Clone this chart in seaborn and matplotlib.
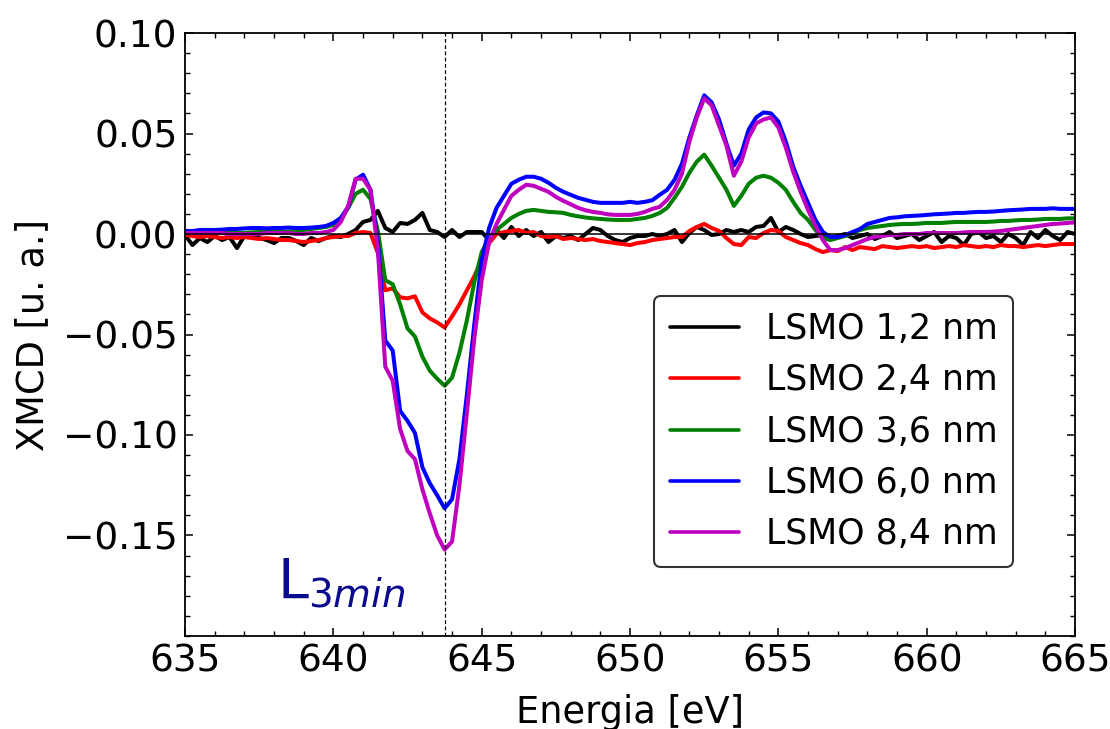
import numpy as np
import pandas as pd
import matplotlib
matplotlib.use("Agg")
import matplotlib.pyplot as plt
from matplotlib.ticker import AutoMinorLocator, FuncFormatter
import seaborn as sns

# ---------------- data ----------------
energy = np.round(np.arange(635.0, 665.001, 0.25), 2)

labels = ["LSMO 1,2 nm", "LSMO 2,4 nm", "LSMO 3,6 nm", "LSMO 6,0 nm", "LSMO 8,4 nm"]
colors = ["#000000", "#ff0000", "#008000", "#0000ff", "#bf00bf"]

xmcd_12 = [
    -0.0005, -0.0055, -0.002, -0.004,
    -0.001, -0.003, -0.0015, -0.007,
    -0.001, -0.0015, -0.002, -0.003,
    -0.0045, -0.002, -0.002, -0.0035,
    -0.0055, -0.002, -0.0035, -0.002,
    -0.001, -0.0015, 0.0, 0.002,
    0.006, 0.007, 0.0115, 0.003,
    0.001, 0.0055, 0.005, 0.007,
    0.0105, 0.002, 0.001, -0.0015,
    0.002, -0.0015, 0.001, 0.001,
    0.001, -0.003, 0.002, -0.002,
    0.0035, -0.001, 0.002, -0.001,
    0.001, -0.004, -0.001, -0.002,
    -0.001, -0.003, 0.0, 0.003,
    0.002, -0.001, -0.003, -0.004,
    -0.002, -0.001, -0.001, 0.0,
    -0.001, 0.0, 0.002, -0.004,
    0.0005, 0.0035, 0.002, -0.0005,
    0.0, 0.002, 0.001, 0.002,
    0.001, 0.0035, 0.004, 0.008,
    0.001, 0.0035, 0.002, 0.0,
    -0.0015, -0.001, -0.0005, -0.002,
    -0.001, 0.0, -0.002, -0.001,
    0.0, -0.0025, -0.001, 0.001,
    -0.002, -0.001, 0.0, -0.003,
    -0.001, 0.001, -0.004, -0.001,
    -0.002, -0.0055, 0.0, 0.001,
    -0.002, -0.001, -0.004, 0.0,
    -0.002, -0.0055, 0.001, -0.002,
    0.002, -0.001, -0.003, 0.001,
    0.0,
]

xmcd_24 = [
    -0.0005, -0.001, -0.0015, -0.001,
    -0.0015, -0.002, -0.0015, -0.002,
    -0.0015, -0.002, -0.0025, -0.002,
    -0.0025, -0.003, -0.003, -0.0035,
    -0.004, -0.0035, -0.003, -0.002,
    -0.0015, -0.001, -0.001, 0.0005,
    0.001, 0.0005, -0.0095, -0.028,
    -0.027, -0.0315, -0.032, -0.031,
    -0.039, -0.042, -0.044, -0.0465,
    -0.041, -0.035, -0.028, -0.021,
    -0.013, -0.0045, 0.0, 0.001,
    0.0015, 0.002, 0.0005, 0.001,
    -0.001, -0.0015, -0.001, -0.0025,
    -0.002, -0.0025, -0.003, -0.0025,
    -0.0035, -0.004, -0.0045, -0.005,
    -0.0055, -0.0045, -0.004, -0.003,
    -0.0025, -0.002, -0.0015, -0.0015,
    0.0015, 0.0035, 0.005, 0.003,
    0.0015, -0.002, -0.005, -0.0055,
    -0.0015, -0.002, 0.0005, 0.002,
    0.0015, -0.0015, -0.003, -0.0045,
    -0.0055, -0.0075, -0.009, -0.008,
    -0.0085, -0.0065, -0.008, -0.0065,
    -0.007, -0.0075, -0.006, -0.0065,
    -0.007, -0.0065, -0.006, -0.0065,
    -0.006, -0.007, -0.0065, -0.006,
    -0.0065, -0.0055, -0.006, -0.0065,
    -0.006, -0.0065, -0.0055, -0.006,
    -0.006, -0.0065, -0.006, -0.0055,
    -0.006, -0.0055, -0.005, -0.005,
    -0.005,
]

xmcd_36 = [
    0.001, 0.001, 0.0008, 0.0005,
    0.0005, 0.0005, 0.0005, 0.0005,
    0.0005, 0.0008, 0.001, 0.001,
    0.001, 0.001, 0.0012, 0.0015,
    0.002, 0.0025, 0.003, 0.0035,
    0.0045, 0.0075, 0.013, 0.020,
    0.022, 0.0175, 0.0015, -0.023,
    -0.025, -0.035, -0.047, -0.051,
    -0.061, -0.068, -0.072, -0.0755,
    -0.0715, -0.059, -0.043, -0.024,
    -0.009, -0.002, 0.002, 0.005,
    0.008, 0.010, 0.0115, 0.012,
    0.0115, 0.011, 0.0108, 0.0105,
    0.0095, 0.0088, 0.0082, 0.0078,
    0.0075, 0.0072, 0.007, 0.007,
    0.007, 0.0075, 0.008, 0.009,
    0.0105, 0.013, 0.018, 0.0235,
    0.0305, 0.036, 0.0395, 0.034,
    0.028, 0.022, 0.014, 0.019,
    0.025, 0.028, 0.029, 0.028,
    0.0255, 0.022, 0.016, 0.0105,
    0.007, 0.002, -0.002, -0.003,
    -0.002, -0.001, 0.0005, 0.002,
    0.003, 0.0035, 0.004, 0.0045,
    0.0048, 0.005, 0.005, 0.0052,
    0.0055, 0.0055, 0.0055, 0.0058,
    0.006, 0.006, 0.006, 0.006,
    0.006, 0.0062, 0.0065, 0.0065,
    0.0068, 0.007, 0.007, 0.0072,
    0.0075, 0.0075, 0.0075, 0.0078,
    0.0078,
]

xmcd_60 = [
    0.0015, 0.0015, 0.002, 0.002,
    0.002, 0.0022, 0.0025, 0.0025,
    0.0028, 0.003, 0.003, 0.0028,
    0.003, 0.003, 0.0032, 0.003,
    0.003, 0.0032, 0.0035, 0.004,
    0.0055, 0.008, 0.0135, 0.027,
    0.0295, 0.022, -0.004, -0.053,
    -0.058, -0.088, -0.093, -0.099,
    -0.116, -0.124, -0.130, -0.1365,
    -0.132, -0.112, -0.080, -0.045,
    -0.013, 0.003, 0.013, 0.019,
    0.025, 0.027, 0.0285, 0.0285,
    0.0275, 0.0255, 0.023, 0.021,
    0.0195, 0.018, 0.017, 0.016,
    0.0155, 0.0155, 0.0155, 0.0155,
    0.016, 0.0155, 0.016, 0.0168,
    0.0195, 0.022, 0.027, 0.035,
    0.048, 0.059, 0.069, 0.0655,
    0.057, 0.045, 0.034, 0.040,
    0.052, 0.058, 0.0605, 0.060,
    0.056, 0.046, 0.0335, 0.024,
    0.0155, 0.007, 0.001, -0.0015,
    -0.0015, -0.0005, 0.001, 0.0025,
    0.005, 0.006, 0.007, 0.008,
    0.0083, 0.0088, 0.009, 0.0092,
    0.0095, 0.0098, 0.010, 0.0102,
    0.0105, 0.0105, 0.0108, 0.011,
    0.011, 0.0112, 0.0115, 0.0118,
    0.012, 0.0122, 0.0125, 0.0125,
    0.0125, 0.0128, 0.0125, 0.0125,
    0.0125,
]

xmcd_84 = [
    0.0005, 0.0005, 0.0005, 0.0005,
    0.0005, 0.0005, 0.0, 0.0,
    0.0, 0.0, 0.0, 0.0005,
    0.0005, 0.0005, 0.0005, 0.0,
    0.0, 0.0005, 0.0005, 0.001,
    0.002, 0.006, 0.014, 0.0275,
    0.0275, 0.022, -0.008, -0.066,
    -0.073, -0.097, -0.108, -0.112,
    -0.127, -0.139, -0.150, -0.157,
    -0.153, -0.125, -0.089, -0.052,
    -0.023, -0.004, 0.005, 0.012,
    0.019, 0.022, 0.0245, 0.024,
    0.0225, 0.021, 0.0185, 0.0165,
    0.0148, 0.013, 0.0118, 0.011,
    0.0105, 0.0098, 0.0095, 0.0095,
    0.0095, 0.010, 0.011, 0.0125,
    0.0135, 0.017, 0.022, 0.030,
    0.046, 0.058, 0.0675, 0.064,
    0.054, 0.044, 0.029, 0.036,
    0.048, 0.055, 0.057, 0.058,
    0.053, 0.043, 0.031, 0.021,
    0.012, 0.004, -0.003, -0.008,
    -0.008, -0.007, -0.0055, -0.004,
    -0.0025, -0.0015, -0.001, -0.0005,
    -0.0005, 0.0, 0.0, 0.0,
    0.0005, 0.0005, 0.0005, 0.0005,
    0.0005, 0.0008, 0.001, 0.001,
    0.001, 0.0012, 0.0015, 0.002,
    0.0025, 0.003, 0.0035, 0.004,
    0.0045, 0.005, 0.0052, 0.0055,
    0.0058,
]

series = [xmcd_12, xmcd_24, xmcd_36, xmcd_60, xmcd_84]
for s in series:
    assert len(s) == len(energy), len(s)

l3_min_energy = 643.76
annot_x, annot_y = 638.1, -0.1815

x_ticks = [635, 640, 645, 650, 655, 660, 665]
y_ticks = [-0.15, -0.10, -0.05, 0.00, 0.05, 0.10]

df = pd.DataFrame({
    "Energia": np.tile(energy, len(labels)),
    "XMCD": np.concatenate(series),
    "sample": np.repeat(labels, len(energy)),
})

# ---------------- plot ----------------
sns.set_theme(style="ticks")
plt.rcParams["font.family"] = ["DejaVu Sans"]
plt.rcParams["mathtext.fontset"] = "dejavusans"
plt.rcParams["text.color"] = "black"
plt.rcParams["axes.labelcolor"] = "black"

fig = plt.figure(figsize=(11.1, 7.29), dpi=100)
ax = fig.add_axes([0.1667, 0.1276, 0.8018, 0.8271])

sns.lineplot(data=df, x="Energia", y="XMCD", hue="sample", hue_order=labels,
             palette=dict(zip(labels, colors)), estimator=None, sort=False,
             linewidth=2.9, ax=ax, legend=False, zorder=2)

ax.axhline(0, color="black", lw=1.1, zorder=3)
ax.axvline(l3_min_energy, color="black", lw=0.9, ls=(0, (3, 2)), zorder=3)

ax.text(annot_x, annot_y, r"$\mathrm{L}_{3min}$", color="#0a0a8c",
        fontsize=40, va="baseline", ha="left")

ax.set_xlim(635, 665)
ax.set_ylim(-0.2, 0.1)
ax.set_xticks(x_ticks)
ax.set_yticks(y_ticks)
ax.yaxis.set_major_formatter(FuncFormatter(lambda v, p: f"{v:.2f}".replace("-", "\u2212")))
ax.xaxis.set_minor_locator(AutoMinorLocator(5))
ax.yaxis.set_minor_locator(AutoMinorLocator(5))
ax.tick_params(which="both", direction="in", top=True, right=True,
               labelsize=27, colors="black")
ax.tick_params(which="major", length=6, width=1.1, pad=5.5)
ax.tick_params(which="minor", length=3.5, width=1.0)
for sp in ax.spines.values():
    sp.set_linewidth(1.3)
    sp.set_color("black")

ax.set_xlabel("Energia [eV]", fontsize=26.5, labelpad=10)
ax.set_ylabel("XMCD [u. a.]", fontsize=26.5, labelpad=8)

handles = [plt.Line2D([], [], color=c, lw=2.6) for c in colors]
leg = ax.legend(handles, labels, loc="lower right", bbox_to_anchor=(0.9303, 0.1144),
                borderaxespad=0, fontsize=25, frameon=True, fancybox=True,
                framealpha=1, edgecolor="#333333", handlelength=2.0,
                handletextpad=0.75, labelspacing=0.5, borderpad=0.45)
leg.get_frame().set_linewidth(1.5)
for t in leg.get_texts():
    t.set_color("black")

fig.savefig("out.png", dpi=100)
